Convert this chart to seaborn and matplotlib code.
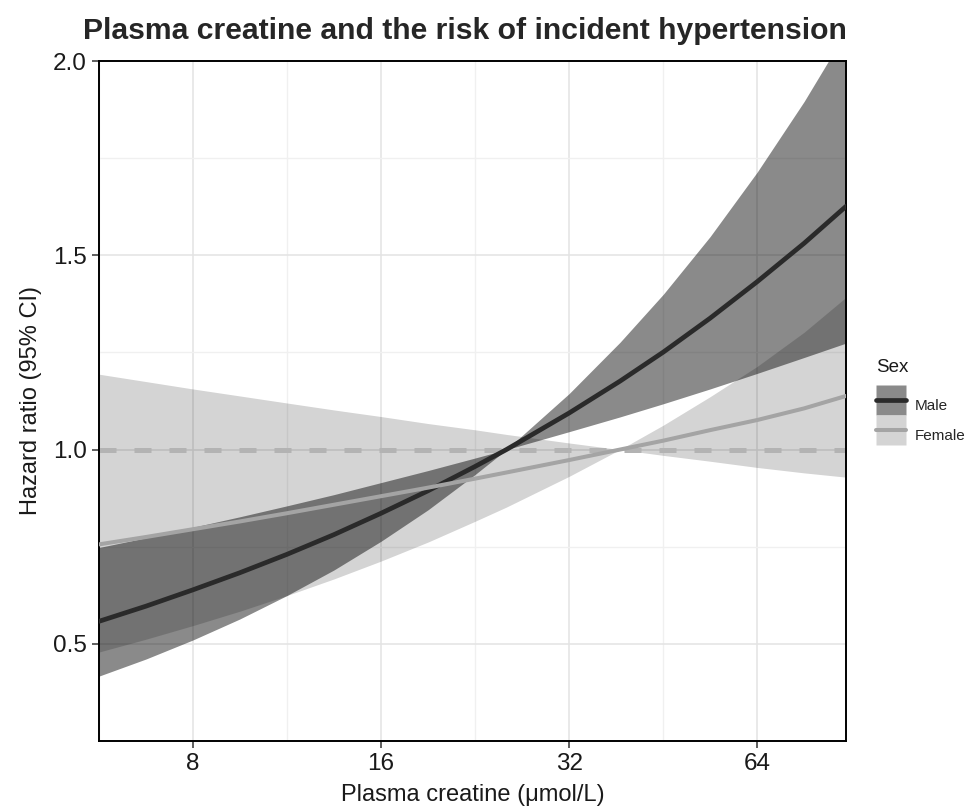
import numpy as np
import pandas as pd
import matplotlib
matplotlib.use("Agg")
import matplotlib.pyplot as plt
import seaborn as sns
from matplotlib.lines import Line2D
from matplotlib.ticker import NullFormatter

# values (plasma creatine in umol/L, hazard ratios)
creatine = [5.66, 6.73, 8.0, 9.51, 11.3, 13.45, 16.0, 19.03, 22.6, 25.4,
            32.0, 38.6, 45.3, 53.8, 64.0, 76.1, 88.8]

male_hr = [0.558, 0.597, 0.639, 0.683, 0.730, 0.781, 0.836, 0.894, 0.956, 1.000,
           1.094, 1.176, 1.251, 1.338, 1.432, 1.531, 1.626]
male_lo = [0.417, 0.461, 0.510, 0.564, 0.624, 0.690, 0.764, 0.845, 0.935, 1.000,
           1.046, 1.084, 1.118, 1.156, 1.196, 1.237, 1.274]
male_hi = [0.748, 0.773, 0.800, 0.827, 0.855, 0.884, 0.915, 0.946, 0.978, 1.000,
           1.144, 1.276, 1.400, 1.548, 1.714, 1.896, 2.075]

female_hr = [0.756, 0.775, 0.795, 0.815, 0.836, 0.858, 0.880, 0.902, 0.925, 0.941,
             0.973, 1.000, 1.023, 1.050, 1.076, 1.106, 1.138]
female_lo = [0.479, 0.512, 0.547, 0.584, 0.624, 0.667, 0.713, 0.762, 0.815, 0.852,
             0.931, 1.000, 0.985, 0.970, 0.954, 0.940, 0.929]
female_hi = [1.194, 1.175, 1.156, 1.138, 1.120, 1.102, 1.085, 1.067, 1.051, 1.039,
             1.017, 1.000, 1.063, 1.136, 1.214, 1.302, 1.392]

sexes = ["Male", "Female"]
x_ticks = [8, 16, 32, 64]
x_minor = [5.66, 11.3, 22.6, 45.3]
y_ticks = [0.5, 1.0, 1.5, 2.0]
y_minor = [0.25, 0.75, 1.25, 1.75]

df = pd.DataFrame({
    "creatine": creatine * 2,
    "hr": male_hr + female_hr,
    "lo": male_lo + female_lo,
    "hi": male_hi + female_hi,
    "sex": ["Male"] * len(creatine) + ["Female"] * len(creatine),
})

line_colors = {"Male": "#2a2a2a", "Female": "#a4a4a4"}
band_alpha = {"Male": 0.46, "Female": 0.17}
key_colors = {"Male": "#8a8a8a", "Female": "#d4d4d4"}
line_widths = {"Male": 3.4, "Female": 2.9}

sns.set_theme(style="white")
plt.rcParams["font.family"] = ["Liberation Sans", "DejaVu Sans"]

fig = plt.figure(figsize=(9.68, 8.07), dpi=100)
ax = fig.add_axes([0.1023, 0.0818, 0.7717, 0.8426])

# confidence ribbons
for s in sexes:
    sub = df[df["sex"] == s]
    ax.fill_between(sub["creatine"], sub["lo"], sub["hi"], color="black",
                    alpha=band_alpha[s], linewidth=0, zorder=1)

# reference line
ax.axhline(1.0, color="#b3b3b3", lw=3.6, dashes=(3.4, 3.6), zorder=2)

for s in sexes:
    sns.lineplot(data=df[df["sex"] == s], x="creatine", y="hr", color=line_colors[s],
                 linewidth=line_widths[s], ax=ax, legend=False, zorder=3)

ax.set_xscale("log", base=2)
ax.set_xlim(5.66, 88.8)
ax.set_ylim(0.25, 2.0)
ax.set_xticks(x_ticks)
ax.set_xticklabels([str(t) for t in x_ticks])
ax.set_xticks(x_minor, minor=True)
ax.xaxis.set_minor_formatter(NullFormatter())
ax.set_yticks(y_ticks)
ax.set_yticklabels([f"{t:.1f}" for t in y_ticks])
ax.set_yticks(y_minor, minor=True)
ax.yaxis.set_minor_formatter(NullFormatter())

ax.grid(True, which="major", color="#e3e3e3", linewidth=1.1, zorder=0)
ax.grid(True, which="minor", color="#f0f0f0", linewidth=1.0, zorder=0)
ax.set_axisbelow(True)

ax.tick_params(axis="both", which="major", direction="out", length=5, width=1.1,
               color="#333333", labelsize=17.5, labelcolor="#1a1a1a", pad=4,
               bottom=True, left=True)
ax.tick_params(axis="both", which="minor", length=0)

for side in ["top", "right", "bottom", "left"]:
    ax.spines[side].set_color("black")
    ax.spines[side].set_linewidth(1.4)

ax.set_xlabel("Plasma creatine (\u03bcmol/L)", fontsize=17, color="#1a1a1a", labelpad=6)
ax.set_ylabel("Hazard ratio (95% CI)", fontsize=17, color="#1a1a1a", labelpad=8)
ax.set_title("Plasma creatine and the risk of incident hypertension",
             fontsize=21.7, fontweight="bold", pad=16, x=0.49)

# legend: title as separate text, keys are a grey box with the line on top
fig.text(0.905, 1 - 368 / 807, "Sex", fontsize=13.5, color="#1a1a1a",
         ha="left", va="center")
handles = []
for s in sexes:
    box = Line2D([0], [0], marker="s", markersize=22, markerfacecolor=key_colors[s],
                 markeredgecolor="none", linestyle="none")
    line = Line2D([0], [0], color=line_colors[s], lw=line_widths[s])
    handles.append((box, line))
leg = fig.legend(handles, sexes, loc="upper left",
                 bbox_to_anchor=(0.905, 1 - 390 / 807), frameon=False, fontsize=11,
                 handlelength=1.96, handleheight=2.65,
                 handletextpad=0.6, labelspacing=0.0, borderpad=0,
                 borderaxespad=0)

fig.savefig("out.png", dpi=100)
